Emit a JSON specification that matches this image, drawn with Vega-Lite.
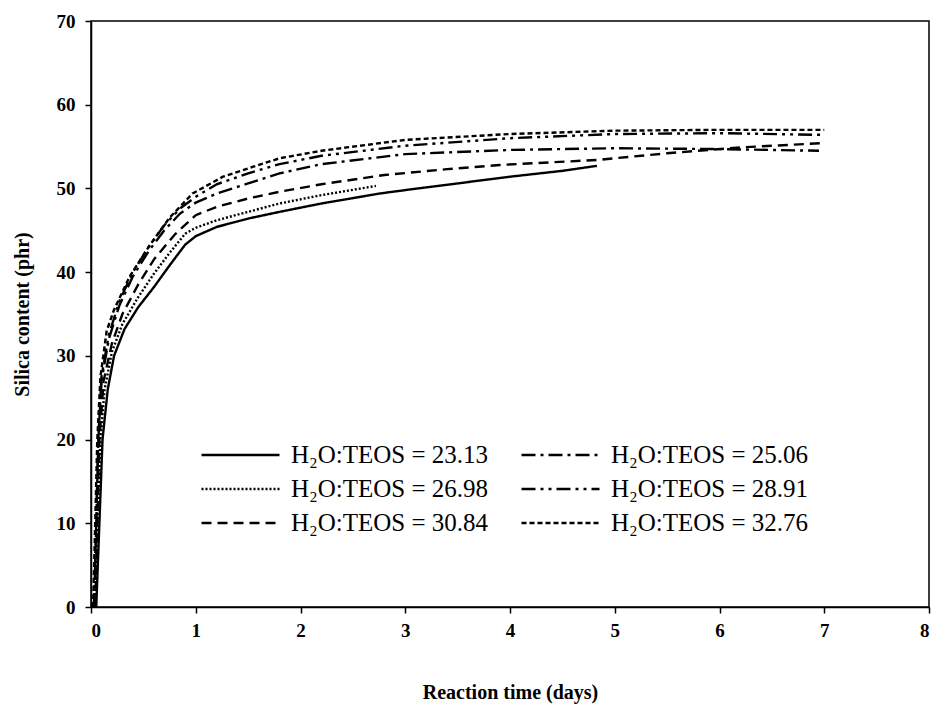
{
  "$schema": "https://vega.github.io/schema/vega-lite/v6.json",
  "width": 838,
  "height": 586,
  "autosize": {"type": "none"},
  "padding": {"left": 91, "top": 21, "right": 5, "bottom": 104},
  "background": "white",
  "config": {
    "view": {"stroke": "black", "strokeWidth": 1.5},
    "font": "Liberation Serif",
    "axis": {
      "grid": false,
      "domainColor": "black",
      "domainWidth": 1.5,
      "tickColor": "black",
      "tickWidth": 1.5,
      "tickSize": 6,
      "labelFont": "Liberation Serif",
      "labelFontWeight": "bold",
      "labelFontSize": 19,
      "labelColor": "black",
      "titleFont": "Liberation Serif",
      "titleFontWeight": "bold",
      "titleFontSize": 20,
      "titleColor": "black"
    }
  },
  "data": {
    "values": [
      {"series": "H₂O:TEOS = 23.13", "t": 0.05, "s": 0},
      {"series": "H₂O:TEOS = 23.13", "t": 0.08, "s": 10},
      {"series": "H₂O:TEOS = 23.13", "t": 0.11, "s": 20},
      {"series": "H₂O:TEOS = 23.13", "t": 0.16, "s": 26},
      {"series": "H₂O:TEOS = 23.13", "t": 0.22, "s": 30},
      {"series": "H₂O:TEOS = 23.13", "t": 0.32, "s": 33.2},
      {"series": "H₂O:TEOS = 23.13", "t": 0.45, "s": 35.8},
      {"series": "H₂O:TEOS = 23.13", "t": 0.6, "s": 38.2},
      {"series": "H₂O:TEOS = 23.13", "t": 0.75, "s": 40.8},
      {"series": "H₂O:TEOS = 23.13", "t": 0.9, "s": 43.3},
      {"series": "H₂O:TEOS = 23.13", "t": 1.0, "s": 44.3},
      {"series": "H₂O:TEOS = 23.13", "t": 1.2, "s": 45.4},
      {"series": "H₂O:TEOS = 23.13", "t": 1.5, "s": 46.4},
      {"series": "H₂O:TEOS = 23.13", "t": 1.8, "s": 47.2},
      {"series": "H₂O:TEOS = 23.13", "t": 2.2, "s": 48.2},
      {"series": "H₂O:TEOS = 23.13", "t": 2.76, "s": 49.4},
      {"series": "H₂O:TEOS = 23.13", "t": 3.0, "s": 49.8},
      {"series": "H₂O:TEOS = 23.13", "t": 3.5, "s": 50.6},
      {"series": "H₂O:TEOS = 23.13", "t": 4.0, "s": 51.4},
      {"series": "H₂O:TEOS = 23.13", "t": 4.5, "s": 52.1},
      {"series": "H₂O:TEOS = 23.13", "t": 4.83, "s": 52.7},

      {"series": "H₂O:TEOS = 26.98", "t": 0.04, "s": 0},
      {"series": "H₂O:TEOS = 26.98", "t": 0.06, "s": 10},
      {"series": "H₂O:TEOS = 26.98", "t": 0.09, "s": 20},
      {"series": "H₂O:TEOS = 26.98", "t": 0.13, "s": 26},
      {"series": "H₂O:TEOS = 26.98", "t": 0.2, "s": 30.5},
      {"series": "H₂O:TEOS = 26.98", "t": 0.3, "s": 33.8},
      {"series": "H₂O:TEOS = 26.98", "t": 0.45, "s": 37},
      {"series": "H₂O:TEOS = 26.98", "t": 0.6, "s": 39.8},
      {"series": "H₂O:TEOS = 26.98", "t": 0.75, "s": 42.3},
      {"series": "H₂O:TEOS = 26.98", "t": 0.9, "s": 44.6},
      {"series": "H₂O:TEOS = 26.98", "t": 1.0, "s": 45.3},
      {"series": "H₂O:TEOS = 26.98", "t": 1.2, "s": 46.2},
      {"series": "H₂O:TEOS = 26.98", "t": 1.5, "s": 47.2},
      {"series": "H₂O:TEOS = 26.98", "t": 1.8, "s": 48.2},
      {"series": "H₂O:TEOS = 26.98", "t": 2.2, "s": 49.2},
      {"series": "H₂O:TEOS = 26.98", "t": 2.72, "s": 50.3},

      {"series": "H₂O:TEOS = 30.84", "t": 0.04, "s": 0},
      {"series": "H₂O:TEOS = 30.84", "t": 0.06, "s": 10},
      {"series": "H₂O:TEOS = 30.84", "t": 0.08, "s": 20},
      {"series": "H₂O:TEOS = 30.84", "t": 0.12, "s": 27},
      {"series": "H₂O:TEOS = 30.84", "t": 0.2, "s": 31.5},
      {"series": "H₂O:TEOS = 30.84", "t": 0.3, "s": 35},
      {"series": "H₂O:TEOS = 30.84", "t": 0.45, "s": 38.5},
      {"series": "H₂O:TEOS = 30.84", "t": 0.6, "s": 41.5},
      {"series": "H₂O:TEOS = 30.84", "t": 0.8, "s": 44.5},
      {"series": "H₂O:TEOS = 30.84", "t": 1.0, "s": 46.8},
      {"series": "H₂O:TEOS = 30.84", "t": 1.2, "s": 47.8},
      {"series": "H₂O:TEOS = 30.84", "t": 1.5, "s": 48.8},
      {"series": "H₂O:TEOS = 30.84", "t": 1.8, "s": 49.6},
      {"series": "H₂O:TEOS = 30.84", "t": 2.2, "s": 50.5},
      {"series": "H₂O:TEOS = 30.84", "t": 2.8, "s": 51.6},
      {"series": "H₂O:TEOS = 30.84", "t": 3.4, "s": 52.3},
      {"series": "H₂O:TEOS = 30.84", "t": 3.9, "s": 52.8},
      {"series": "H₂O:TEOS = 30.84", "t": 4.83, "s": 53.4},
      {"series": "H₂O:TEOS = 30.84", "t": 5.5, "s": 54.2},
      {"series": "H₂O:TEOS = 30.84", "t": 6.2, "s": 54.9},
      {"series": "H₂O:TEOS = 30.84", "t": 6.97, "s": 55.4},

      {"series": "H₂O:TEOS = 25.06", "t": 0.03, "s": 0},
      {"series": "H₂O:TEOS = 25.06", "t": 0.05, "s": 10},
      {"series": "H₂O:TEOS = 25.06", "t": 0.07, "s": 20},
      {"series": "H₂O:TEOS = 25.06", "t": 0.1, "s": 27},
      {"series": "H₂O:TEOS = 25.06", "t": 0.17, "s": 32},
      {"series": "H₂O:TEOS = 25.06", "t": 0.27, "s": 36},
      {"series": "H₂O:TEOS = 25.06", "t": 0.4, "s": 39.5},
      {"series": "H₂O:TEOS = 25.06", "t": 0.55, "s": 42.5},
      {"series": "H₂O:TEOS = 25.06", "t": 0.7, "s": 45},
      {"series": "H₂O:TEOS = 25.06", "t": 0.85, "s": 47},
      {"series": "H₂O:TEOS = 25.06", "t": 1.0, "s": 48.3},
      {"series": "H₂O:TEOS = 25.06", "t": 1.2, "s": 49.4},
      {"series": "H₂O:TEOS = 25.06", "t": 1.5, "s": 50.6},
      {"series": "H₂O:TEOS = 25.06", "t": 1.8, "s": 51.8},
      {"series": "H₂O:TEOS = 25.06", "t": 2.2, "s": 52.9},
      {"series": "H₂O:TEOS = 25.06", "t": 3.0, "s": 54.1},
      {"series": "H₂O:TEOS = 25.06", "t": 4.0, "s": 54.6},
      {"series": "H₂O:TEOS = 25.06", "t": 5.0, "s": 54.8},
      {"series": "H₂O:TEOS = 25.06", "t": 6.0, "s": 54.7},
      {"series": "H₂O:TEOS = 25.06", "t": 6.95, "s": 54.5},

      {"series": "H₂O:TEOS = 28.91", "t": 0.03, "s": 0},
      {"series": "H₂O:TEOS = 28.91", "t": 0.05, "s": 10},
      {"series": "H₂O:TEOS = 28.91", "t": 0.07, "s": 20},
      {"series": "H₂O:TEOS = 28.91", "t": 0.1, "s": 27.5},
      {"series": "H₂O:TEOS = 28.91", "t": 0.17, "s": 32.5},
      {"series": "H₂O:TEOS = 28.91", "t": 0.27, "s": 36.5},
      {"series": "H₂O:TEOS = 28.91", "t": 0.4, "s": 40},
      {"series": "H₂O:TEOS = 28.91", "t": 0.55, "s": 43},
      {"series": "H₂O:TEOS = 28.91", "t": 0.7, "s": 45.6},
      {"series": "H₂O:TEOS = 28.91", "t": 0.85, "s": 47.6},
      {"series": "H₂O:TEOS = 28.91", "t": 1.0, "s": 49.0},
      {"series": "H₂O:TEOS = 28.91", "t": 1.2, "s": 50.5},
      {"series": "H₂O:TEOS = 28.91", "t": 1.5, "s": 51.8},
      {"series": "H₂O:TEOS = 28.91", "t": 1.8, "s": 52.9},
      {"series": "H₂O:TEOS = 28.91", "t": 2.2, "s": 53.9},
      {"series": "H₂O:TEOS = 28.91", "t": 3.0, "s": 55.1},
      {"series": "H₂O:TEOS = 28.91", "t": 4.0, "s": 56.0},
      {"series": "H₂O:TEOS = 28.91", "t": 5.0, "s": 56.5},
      {"series": "H₂O:TEOS = 28.91", "t": 6.0, "s": 56.6},
      {"series": "H₂O:TEOS = 28.91", "t": 6.98, "s": 56.4},

      {"series": "H₂O:TEOS = 32.76", "t": 0.02, "s": 0},
      {"series": "H₂O:TEOS = 32.76", "t": 0.04, "s": 10},
      {"series": "H₂O:TEOS = 32.76", "t": 0.06, "s": 20},
      {"series": "H₂O:TEOS = 32.76", "t": 0.09, "s": 27.5},
      {"series": "H₂O:TEOS = 32.76", "t": 0.15, "s": 33},
      {"series": "H₂O:TEOS = 32.76", "t": 0.22, "s": 35.5},
      {"series": "H₂O:TEOS = 32.76", "t": 0.37, "s": 39.5},
      {"series": "H₂O:TEOS = 32.76", "t": 0.56, "s": 43.2},
      {"series": "H₂O:TEOS = 32.76", "t": 0.75, "s": 46.5},
      {"series": "H₂O:TEOS = 32.76", "t": 0.97, "s": 49.4},
      {"series": "H₂O:TEOS = 32.76", "t": 1.26, "s": 51.4},
      {"series": "H₂O:TEOS = 32.76", "t": 1.55, "s": 52.6},
      {"series": "H₂O:TEOS = 32.76", "t": 1.8, "s": 53.6},
      {"series": "H₂O:TEOS = 32.76", "t": 2.2, "s": 54.5},
      {"series": "H₂O:TEOS = 32.76", "t": 3.0, "s": 55.8},
      {"series": "H₂O:TEOS = 32.76", "t": 4.0, "s": 56.5},
      {"series": "H₂O:TEOS = 32.76", "t": 5.0, "s": 56.9},
      {"series": "H₂O:TEOS = 32.76", "t": 6.0, "s": 57.0},
      {"series": "H₂O:TEOS = 32.76", "t": 7.0, "s": 57.0}
    ]
  },
  "mark": {"type": "line", "color": "black", "strokeWidth": 2.4},
  "encoding": {
    "x": {
      "field": "t", "type": "quantitative",
      "scale": {"domain": [0, 8], "nice": false},
      "axis": {"values": [0,1,2,3,4,5,6,7,8], "title": "Reaction time (days)", "labelPadding": 8, "titlePadding": 42, "format": "d"}
    },
    "y": {
      "field": "s", "type": "quantitative",
      "scale": {"domain": [0, 70], "nice": false},
      "axis": {"values": [0,10,20,30,40,50,60,70], "title": "Silica content (phr)", "labelPadding": 10, "titlePadding": 24}
    },
    "strokeDash": {
      "field": "series", "type": "nominal",
      "scale": {
        "domain": ["H₂O:TEOS = 23.13", "H₂O:TEOS = 26.98", "H₂O:TEOS = 30.84", "H₂O:TEOS = 25.06", "H₂O:TEOS = 28.91", "H₂O:TEOS = 32.76"],
        "range": [[1, 0], [2, 2], [10, 6], [14, 5, 3, 5], [14, 5, 3, 5, 3, 5], [5, 3]]
      },
      "legend": {
        "title": null,
        "orient": "none",
        "legendX": 109,
        "legendY": 417,
        "columns": 2,
        "columnPadding": 31,
        "rowPadding": 0,
        "clipHeight": 34,
        "symbolType": "stroke",
        "symbolSize": 6084,
        "symbolStrokeWidth": 2.5,
        "symbolStrokeColor": "black",
        "labelFont": "Liberation Serif",
        "labelFontSize": 25,
        "labelColor": "black",
        "labelOffset": 10,
        "labelLimit": 0
      }
    }
  }
}
